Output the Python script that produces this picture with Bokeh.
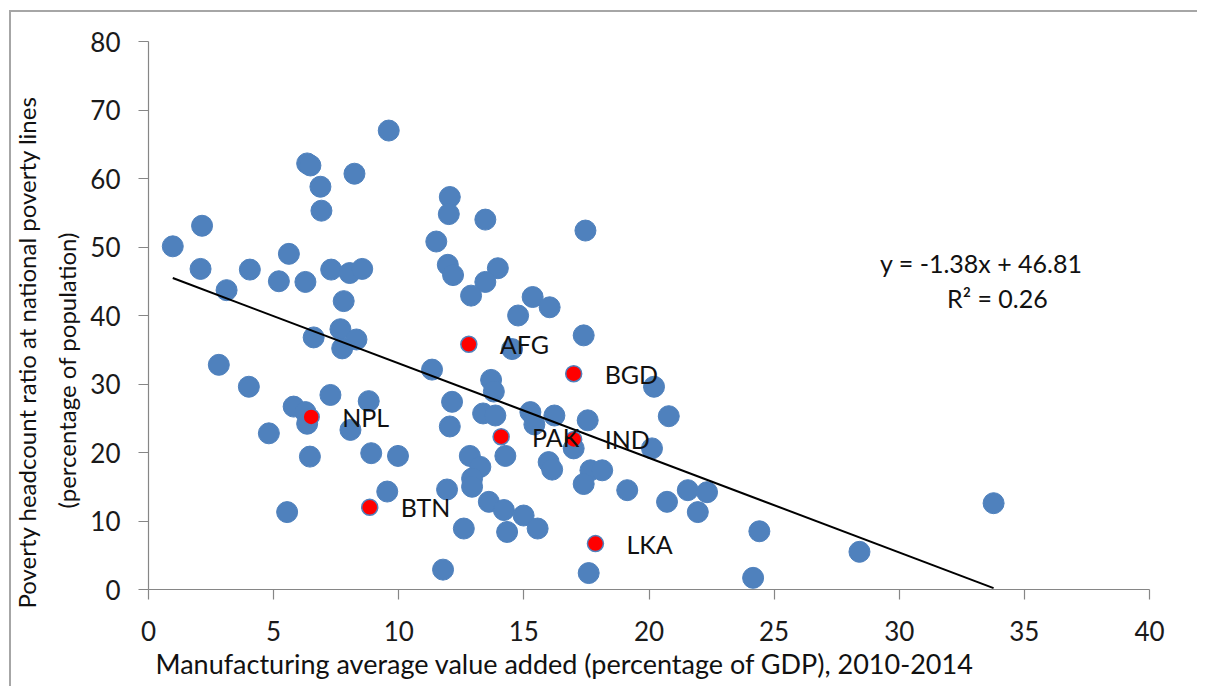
from bokeh.plotting import figure
from bokeh.models import Range1d, FixedTicker, Label, ColumnDataSource, Title
from bokeh.embed import file_html
from bokeh.resources import INLINE
from bokeh.core.properties import value

# ---- data ----
blue_x = [9.6, 6.34, 6.47, 8.23, 6.87, 6.91, 2.14, 0.97, 5.61, 2.08, 4.05, 5.21, 6.27, 7.3, 8.04,
          8.54, 3.12, 7.8, 7.67, 6.6, 8.31, 7.74, 12.04, 12.0, 13.46, 17.46, 11.5, 11.96, 12.17,
          13.96, 13.46, 12.89, 15.35, 16.03, 14.77, 17.39, 14.53, 20.2, 11.33, 13.69, 13.8, 12.13,
          13.37, 13.86, 15.26, 16.22, 17.55, 20.79, 12.04, 15.42, 16.99, 20.12, 14.26, 12.84, 13.26,
          15.99, 16.13, 9.97, 17.66, 18.13, 17.39, 19.13, 21.55, 22.32, 21.95, 20.72, 12.93, 12.93,
          11.93, 13.6, 14.2, 14.99, 15.55, 14.33, 12.6, 11.77, 17.59, 33.77, 24.41, 28.41, 24.16,
          2.81, 4.01, 7.27, 8.8, 5.8, 6.27, 6.34, 8.07, 4.81, 6.45, 8.9, 9.54, 5.54]
blue_y = [67.0, 62.2, 61.9, 60.7, 58.8, 55.3, 53.1, 50.1, 49.0, 46.8, 46.7, 45.0, 44.9, 46.7, 46.2,
          46.8, 43.7, 42.1, 38.0, 36.8, 36.5, 35.2, 57.3, 54.8, 54.0, 52.4, 50.8, 47.4, 45.9,
          46.9, 44.9, 42.9, 42.7, 41.2, 40.0, 37.1, 35.1, 29.6, 32.1, 30.6, 28.9, 27.4,
          25.7, 25.4, 25.9, 25.4, 24.7, 25.3, 23.8, 24.1, 20.6, 20.6, 19.5, 19.5, 17.9,
          18.6, 17.5, 19.5, 17.4, 17.4, 15.4, 14.5, 14.5, 14.2, 11.3, 12.8, 16.2, 15.0,
          14.6, 12.8, 11.6, 10.8, 8.9, 8.4, 8.9, 2.9, 2.4, 12.6, 8.5, 5.5, 1.7,
          32.8, 29.6, 28.4, 27.5, 26.7, 25.9, 24.2, 23.3, 22.8, 19.4, 19.9, 14.3, 11.3]

south_asia_codes = ["AFG", "BGD", "NPL", "PAK", "IND", "BTN", "LKA"]
south_asia_x = [12.8, 16.99, 6.5, 14.09, 16.99, 8.84, 17.86]
south_asia_y = [35.8, 31.5, 25.2, 22.3, 21.9, 12.0, 6.7]

trend_slope = -1.38
trend_intercept = 46.81
trend_label_1 = "y = -1.38x + 46.81"
trend_label_2 = "R\u00b2 = 0.26"

x_ticks = [0, 5, 10, 15, 20, 25, 30, 35, 40]
y_ticks = [0, 10, 20, 30, 40, 50, 60, 70, 80]

x_title = "Manufacturing average value added (percentage of GDP), 2010-2014"
y_title_1 = "Poverty headcount ratio at national poverty lines"
y_title_2 = "(percentage of population)"

# ---- figure ----
FONT = "Lato"
p = figure(width=1197, height=686, output_backend="svg", toolbar_location=None,
           x_range=Range1d(0, 40), y_range=Range1d(0, 80),
           min_border_left=148, min_border_right=48, min_border_top=41, min_border_bottom=97)
BORDER = "#a6a6a6"
p.styles = {
    "background": (f"linear-gradient({BORDER}, {BORDER}) 9px 10px / 2px calc(100% - 10px) no-repeat, "
                   f"linear-gradient({BORDER}, {BORDER}) 9px 10px / calc(100% - 9px) 2px no-repeat, "
                   "#ffffff"),
}
p.outline_line_color = None
p.xgrid.visible = False
p.ygrid.visible = False
p.background_fill_color = "white"
p.border_fill_color = None

for ax, ticks in ((p.xaxis[0], x_ticks), (p.yaxis[0], y_ticks)):
    ax.ticker = FixedTicker(ticks=ticks)
    ax.axis_line_color = "#868686"
    ax.axis_line_width = 1.2
    ax.major_tick_line_color = "#868686"
    ax.major_tick_line_width = 1.2
    ax.major_tick_in = 0
    ax.major_tick_out = 10
    ax.minor_tick_line_color = None
    ax.major_label_text_font = FONT
    ax.major_label_text_font_size = "26px"
    ax.major_label_text_color = "#1a1a1a"
p.xaxis[0].major_label_standoff = 21
p.yaxis[0].major_label_standoff = 18

src_blue = ColumnDataSource(dict(x=blue_x, y=blue_y))
p.scatter("x", "y", source=src_blue, size=21, fill_color="#4F81BD", line_color="#4F81BD",
          line_width=1, fill_alpha=1.0)

x0, x1 = min(blue_x), max(blue_x)
p.line([x0, x1], [trend_slope * x0 + trend_intercept, trend_slope * x1 + trend_intercept],
       line_color="black", line_width=2)

src_red = ColumnDataSource(dict(x=south_asia_x, y=south_asia_y, t=south_asia_codes))
p.scatter("x", "y", source=src_red, size=16, fill_color="#FF0000", line_color="#4F81BD",
          line_width=1.5)
p.text("x", "y", text="t", source=src_red, x_offset=31, text_align="left",
       text_baseline="middle", text_font=value(FONT), text_font_size="25px", text_color="#111111")

# trendline equation
p.add_layout(Label(x=33.28, y=47.7, text=trend_label_1, text_align="center",
                   text_baseline="alphabetic", text_font=FONT, text_font_size="25px",
                   text_color="#111111"))
p.add_layout(Label(x=33.92, y=42.5, text=trend_label_2, text_align="center",
                   text_baseline="alphabetic", text_font=FONT, text_font_size="25px",
                   text_color="#111111"))

# axis titles as side titles
p.add_layout(Title(text=x_title, align="left", offset=7, standoff=2, text_font=FONT,
                   text_font_size="27px", text_font_style="normal", text_color="#111111"), "below")
p.add_layout(Title(text=y_title_2, align="left", offset=81, standoff=14, text_font=FONT,
                   text_font_size="24px", text_font_style="normal", text_color="#111111"), "left")
p.add_layout(Title(text=y_title_1, align="left", offset=-19, standoff=4, text_font=FONT,
                   text_font_size="24px", text_font_style="normal", text_color="#111111"), "left")

open("out.html", "w").write(file_html(p, INLINE))
